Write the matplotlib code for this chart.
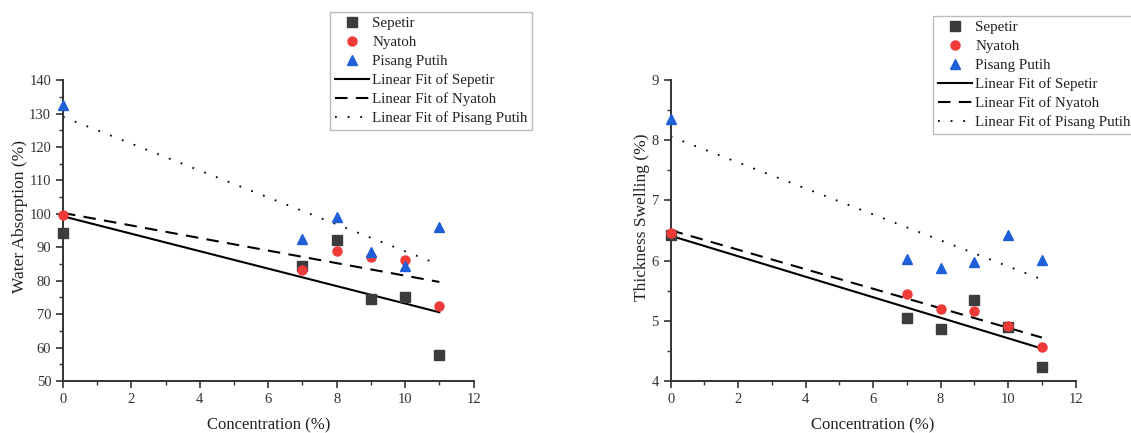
import matplotlib
matplotlib.use("Agg")
import matplotlib.pyplot as plt
from matplotlib.ticker import MultipleLocator
import numpy as np

plt.rcParams['font.family'] = ['Liberation Serif', 'DejaVu Serif']

# concentration (%)
conc = [0, 7, 8, 9, 10, 11]

# water absorption (%)
wa_sepetir = [94.4, 84.3, 92.1, 74.4, 75.2, 57.8]
wa_nyatoh = [99.6, 83.3, 88.9, 87.0, 86.1, 72.3]
wa_pisang = [132.7, 92.4, 99.0, 88.5, 84.5, 96.1]

# thickness swelling (%)
ts_sepetir = [6.43, 5.04, 4.86, 5.35, 4.90, 4.24]
ts_nyatoh = [6.46, 5.44, 5.19, 5.17, 4.92, 4.56]
ts_pisang = [8.36, 6.03, 5.87, 5.97, 6.43, 6.01]

names = ['Sepetir', 'Nyatoh', 'Pisang Putih']
markers = ['s', 'o', '^']
colors = ['#3c3c3c', '#f03a3a', '#1f5fd8']
fit_styles = ['-', (0, (6, 4)), (0, (1, 6))]
fit_widths = [1.5, 1.5, 1.3]


def draw(ax, series, ylabel, ylim, ymajor, yminor, legend_xy, label_xy):
    handles = []
    for name, y, m, c in zip(names, series, markers, colors):
        h, = ax.plot(conc, y, linestyle='none', marker=m, color=c,
                     markersize=6.5, label=name, zorder=3, clip_on=False)
        handles.append(h)
    xs = np.array([min(conc), max(conc)])
    for name, y, ls, lw in zip(names, series, fit_styles, fit_widths):
        k, b = np.polyfit(conc, y, 1)
        h, = ax.plot(xs, k * xs + b, color='black', linestyle=ls,
                     linewidth=lw, label='Linear Fit of ' + name, zorder=2,
                     clip_on=False)
        handles.append(h)

    ax.set_xlim(0, 12)
    ax.set_ylim(*ylim)
    ax.xaxis.set_major_locator(MultipleLocator(2))
    ax.xaxis.set_minor_locator(MultipleLocator(1))
    ax.yaxis.set_major_locator(MultipleLocator(ymajor))
    ax.yaxis.set_minor_locator(MultipleLocator(yminor))
    ax.tick_params(which='both', direction='out', labelsize=10.5, colors='#333333')
    ax.tick_params(which='major', length=5, width=1.2)
    ax.tick_params(which='minor', length=3, width=1)
    for s in ['top', 'right']:
        ax.spines[s].set_visible(False)
    for s in ['left', 'bottom']:
        ax.spines[s].set_linewidth(1.4)
        ax.spines[s].set_color('#333333')
    ax.set_xlabel('Concentration (%)', fontsize=12, color='#222222', labelpad=8)
    ax.set_ylabel(ylabel, fontsize=12.5, color='#222222')
    ax.yaxis.set_label_coords(*label_xy)

    leg = fig.legend(handles=handles, loc='upper left', bbox_to_anchor=legend_xy,
                     bbox_transform=fig.transFigure, fontsize=10.8,
                     fancybox=False, edgecolor='#bbbbbb', framealpha=1,
                     handlelength=2.3, handletextpad=0.2, labelspacing=0.36,
                     borderpad=0.3, borderaxespad=0)
    leg.get_frame().set_linewidth(1.0)
    for t in leg.get_texts():
        t.set_color('#222222')


fig = plt.figure(figsize=(11.31, 4.33), dpi=100)
ax1 = fig.add_axes([0.0557, 0.12, 0.363, 0.695])
ax2 = fig.add_axes([0.593, 0.12, 0.358, 0.695])

draw(ax1, [wa_sepetir, wa_nyatoh, wa_pisang], 'Water Absorption (%)',
     (50, 140), 10, 5, (0.292, 0.972), (-0.085, 0.548))
draw(ax2, [ts_sepetir, ts_nyatoh, ts_pisang], 'Thickness Swelling (%)',
     (4, 9), 1, 0.5, (0.825, 0.963), (-0.052, 0.545))

fig.savefig('out.png', dpi=100)
